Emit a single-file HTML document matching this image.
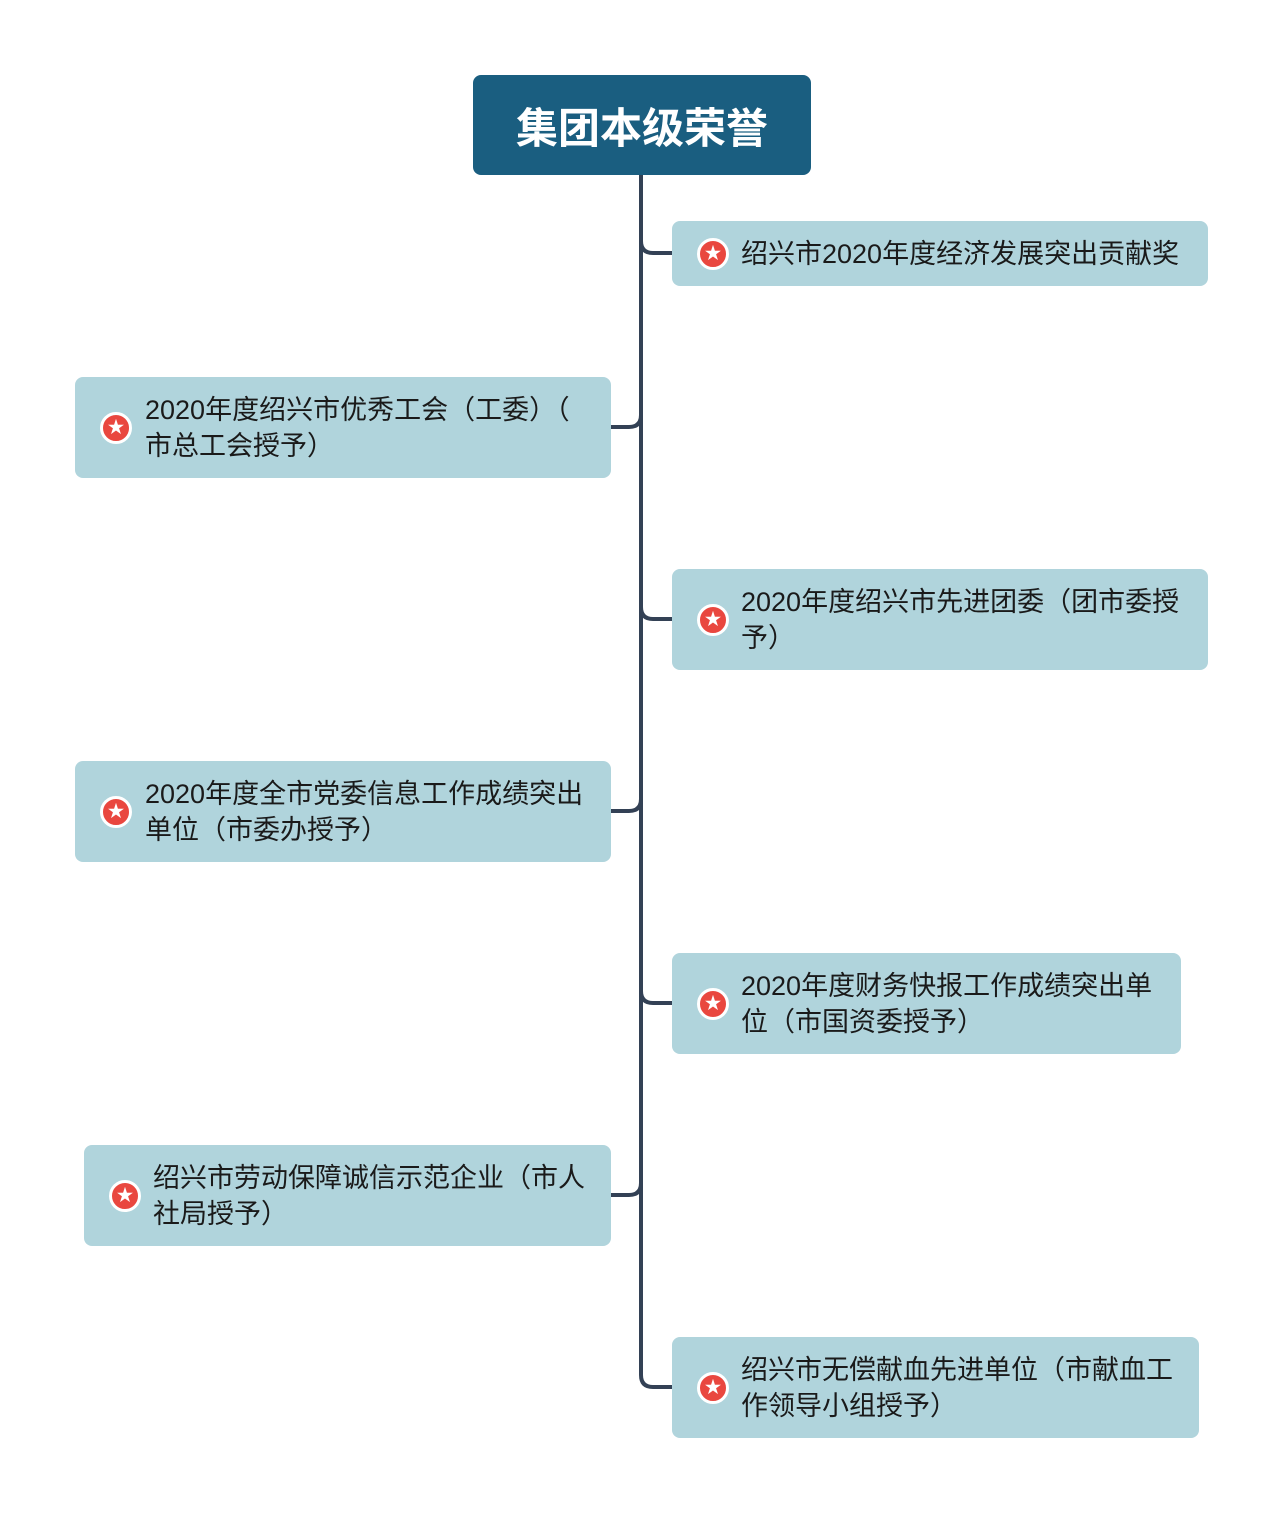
<!DOCTYPE html>
<html><head><meta charset="utf-8"><style>
body{margin:0;width:1284px;height:1513px;background:#fff;position:relative;font-family:"Liberation Sans","Noto Sans CJK SC",sans-serif;overflow:hidden}
.root{position:absolute;left:473px;top:75px;width:338px;height:100px;background:#1a5e80;border-radius:8px;color:#fff;font-weight:bold;font-size:42px;display:flex;align-items:center;justify-content:center}
.b{position:absolute;background:#b0d4dc;border-radius:8px;color:#1a1a1a;font-size:27px;line-height:36px;display:flex;align-items:center;box-sizing:border-box}
.b .t{position:absolute;top:50%;transform:translateY(-50%);white-space:nowrap}
.ic{position:absolute;top:50%;margin-top:-16px;width:26px;height:26px;border-radius:50%;background:#e9473f;border:3px solid #fff;color:#fff;font-size:17px;line-height:26px;text-align:center}
svg{position:absolute;left:0;top:0}
</style></head><body>
<svg width="1284" height="1513"><g fill="none" stroke="#334155" stroke-width="4">
<path d="M641 175 V1375 Q641 1387 653 1387 H672"/>
<path d="M641 241 Q641 253 653 253 H672"/>
<path d="M641 607 Q641 619 653 619 H672"/>
<path d="M641 991 Q641 1003 653 1003 H672"/>
<path d="M641 415 Q641 427 629 427 H611"/>
<path d="M641 799 Q641 811 629 811 H611"/>
<path d="M641 1183 Q641 1195 629 1195 H611"/>
</g></svg>
<div class="root">集团本级荣誉</div>
<div class="b" style="left:672px;top:221px;width:536px;height:65px"><span class="ic" style="left:25px">★</span><span class="t" style="left:69px">绍兴市2020年度经济发展突出贡献奖</span></div>
<div class="b" style="left:75px;top:377px;width:536px;height:101px"><span class="ic" style="left:25px">★</span><span class="t" style="left:70px">2020年度绍兴市优秀工会（工委）（<br>市总工会授予）</span></div>
<div class="b" style="left:672px;top:569px;width:536px;height:101px"><span class="ic" style="left:25px">★</span><span class="t" style="left:69px">2020年度绍兴市先进团委（团市委授<br>予）</span></div>
<div class="b" style="left:75px;top:761px;width:536px;height:101px"><span class="ic" style="left:25px">★</span><span class="t" style="left:70px">2020年度全市党委信息工作成绩突出<br>单位（市委办授予）</span></div>
<div class="b" style="left:672px;top:953px;width:509px;height:101px"><span class="ic" style="left:25px">★</span><span class="t" style="left:69px">2020年度财务快报工作成绩突出单<br>位（市国资委授予）</span></div>
<div class="b" style="left:84px;top:1145px;width:527px;height:101px"><span class="ic" style="left:25px">★</span><span class="t" style="left:69px">绍兴市劳动保障诚信示范企业（市人<br>社局授予）</span></div>
<div class="b" style="left:672px;top:1337px;width:527px;height:101px"><span class="ic" style="left:25px">★</span><span class="t" style="left:69px">绍兴市无偿献血先进单位（市献血工<br>作领导小组授予）</span></div>
</body></html>
